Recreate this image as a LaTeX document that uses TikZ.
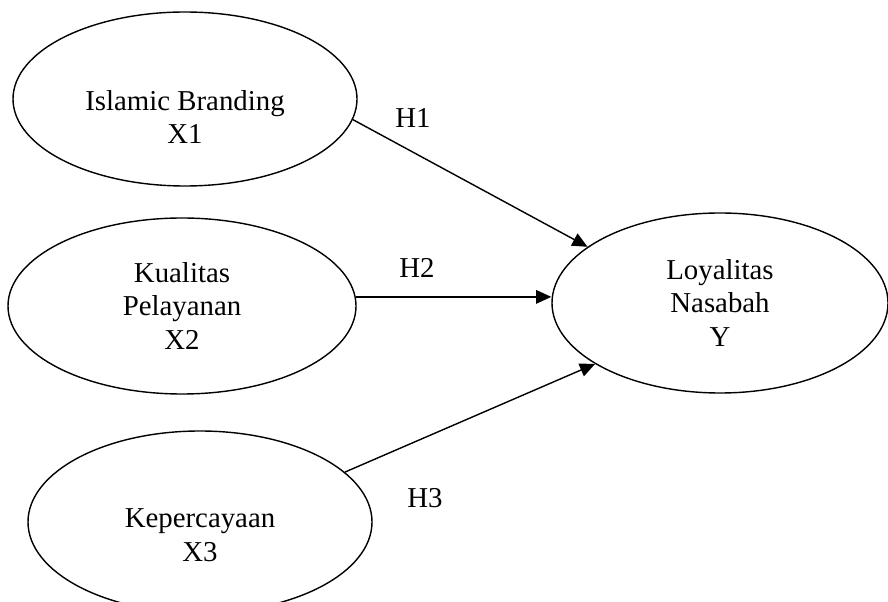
\documentclass[tikz,border=0pt]{standalone}
\usepackage{fontspec}
\setmainfont{Liberation Serif}
\usetikzlibrary{arrows.meta,shapes.geometric}

\begin{document}
\begin{tikzpicture}[
        var/.style={ellipse, draw, line width=1pt, inner sep=0pt, align=center, font=\fontsize{20.5}{23.5}\selectfont},
        txt/.style={align=center, font=\fontsize{20.5}{23.5}\selectfont},
        hyp/.style={line width=1pt, -{Triangle[length=3.8mm, width=3.4mm]}}
    ]
        \useasboundingbox (0,0) rectangle (22.2,-15.05);

        \node[var, minimum width=8.6cm, minimum height=4.35cm] (x1) at (4.625, -2.475) {};
        \node[var, minimum width=8.7cm, minimum height=4.4cm] (x2) at (4.55, -7.65) {Kualitas\\Pelayanan\\X2};
        \node[var, minimum width=8.6cm, minimum height=4.55cm] (x3) at (5, -13.05) {};
        \node[var, minimum width=8.4cm, minimum height=4.5cm] (y) at (18, -7.575) {Loyalitas\\Nasabah\\Y};

        \node[txt] (t1) at ([yshift=-0.46cm]x1.center) {Islamic Branding\\X1};
        \node[txt] (t3) at ([yshift=-0.33cm]x3.center) {Kepercayaan\\X3};

        \node[txt] (h1) at (10.325, -2.95) {H1};
        \node[txt] (h2) at (10.425, -6.7) {H2};
        \node[txt] (h3) at (10.625, -12.45) {H3};

        \draw[hyp] (x1.-7.4) -- (y.157.8);
        \draw[hyp] (x2.3.3) -- (x2.3.3 -| y.west);
        \draw[hyp] (x3.19.6) -- (y.206.8);
    \end{tikzpicture}
\end{document}
